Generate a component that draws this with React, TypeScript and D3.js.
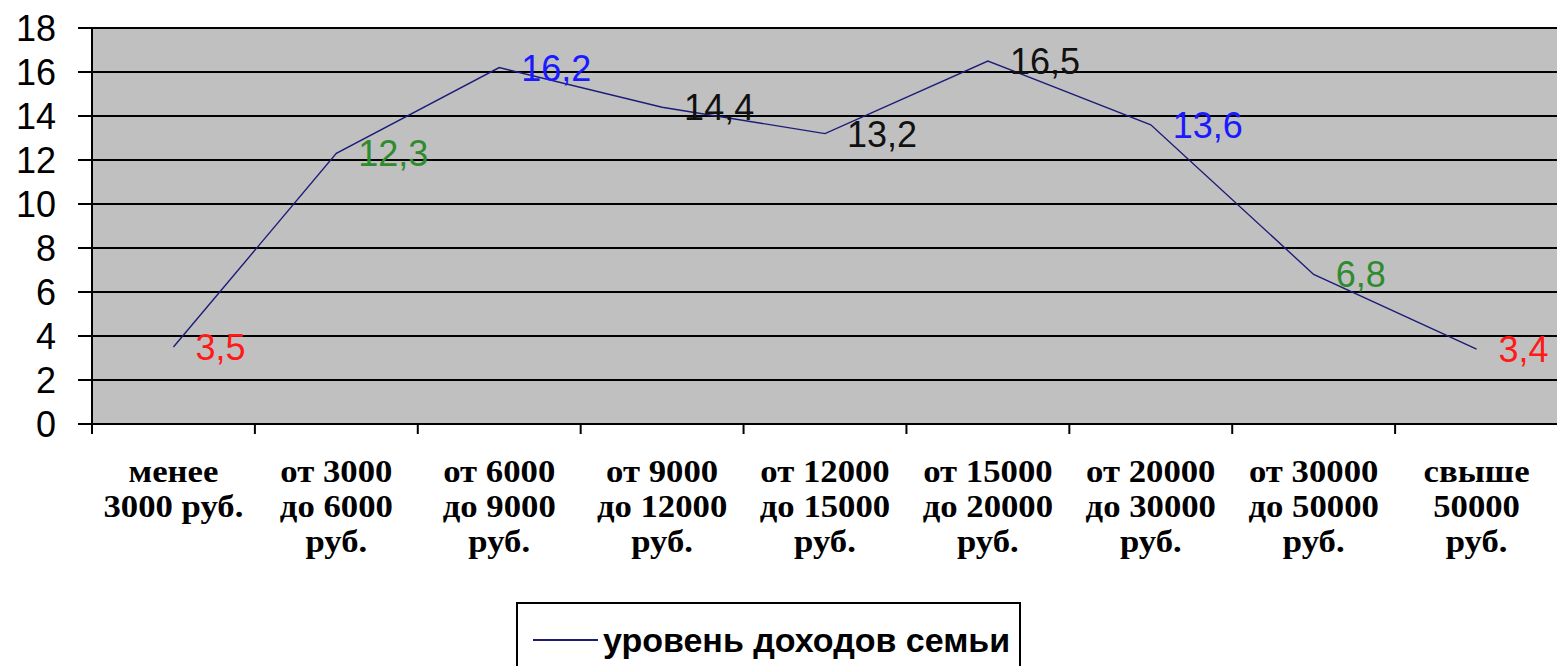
import * as React from 'react';
import * as d3 from 'd3';

const categories = [
  ['менее', '3000 руб.'],
  ['от 3000', 'до 6000', 'руб.'],
  ['от 6000', 'до 9000', 'руб.'],
  ['от 9000', 'до 12000', 'руб.'],
  ['от 12000', 'до 15000', 'руб.'],
  ['от 15000', 'до 20000', 'руб.'],
  ['от 20000', 'до 30000', 'руб.'],
  ['от 30000', 'до 50000', 'руб.'],
  ['свыше', '50000', 'руб.']
];
const values = [3.5, 12.3, 16.2, 14.4, 13.2, 16.5, 13.6, 6.8, 3.4];
const valueLabels = ['3,5', '12,3', '16,2', '14,4', '13,2', '16,5', '13,6', '6,8', '3,4'];
const labelColors = ['#ff1a1a', '#2e8b2e', '#1a1aff', '#111', '#111', '#111', '#1a1aff', '#2e8b2e', '#ff1a1a'];
const yTicks = [0, 2, 4, 6, 8, 10, 12, 14, 16, 18];
const seriesName = 'уровень доходов семьи';

const W = 1557;
const H = 666;
const left = 92;
const right = 1558;
const top = 28;
const bottom = 424;

export default function App() {
  const keys = categories.map((c, i) => String(i));
  const x = d3.scaleBand<string>().domain(keys).range([left, right]);
  const y = d3.scaleLinear().domain([0, 18]).range([bottom, top]);
  const cx = (i: number) => (x(String(i)) as number) + x.bandwidth() / 2;

  const line = d3
    .line<number>()
    .x((d, i) => cx(i))
    .y(d => y(d));

  const tickXs = d3.range(categories.length + 1).map(i => left + i * x.bandwidth());

  return (
    <svg
      width={W}
      height={H}
      style={{ position: 'absolute', left: 0, top: 0, background: '#fff' }}
      fontFamily="'Liberation Sans', Arial, sans-serif"
    >
      <rect x={left} y={top} width={right - left} height={bottom - top} fill="#c0c0c0" />
      {yTicks.map(t => (
        <g key={t}>
          <line x1={78} x2={right} y1={y(t)} y2={y(t)} stroke="#000" strokeWidth={2} />
          <text
            x={56}
            y={y(t)}
            dy="0.36em"
            textAnchor="end"
            fontSize={36}
            fill="#000"
          >
            {t}
          </text>
        </g>
      ))}
      <line x1={left} x2={left} y1={top} y2={bottom + 10} stroke="#000" strokeWidth={2} />
      {tickXs.map((tx, i) => (
        <line key={i} x1={tx} x2={tx} y1={bottom} y2={bottom + 10} stroke="#000" strokeWidth={2} />
      ))}
      <path d={line(values) || ''} fill="none" stroke="#1c1c78" strokeWidth={1.4} />
      {values.map((v, i) => (
        <text
          key={i}
          x={cx(i) + 22}
          y={y(v)}
          dy="0.36em"
          fontSize={36}
          fill={labelColors[i]}
        >
          {valueLabels[i]}
        </text>
      ))}
      {categories.map((lines, i) => (
        <g key={i} transform={`translate(${cx(i)},0) scale(1.12,1)`}>
          <text
            textAnchor="middle"
            fontFamily="'Liberation Serif', 'Times New Roman', serif"
            fontWeight="bold"
            fontSize={31}
            fill="#000"
          >
            {lines.map((l, j) => (
              <tspan key={j} x={0} y={482 + j * 35}>
                {l}
              </tspan>
            ))}
          </text>
        </g>
      ))}
      <rect x={517} y={603} width={503} height={80} fill="#fff" stroke="#000" strokeWidth={2} />
      <line x1={533} x2={598} y1={640} y2={640} stroke="#1c1c78" strokeWidth={2} />
      <text x={603} y={652} fontSize={34} fontWeight="bold" fill="#000">
        {seriesName}
      </text>
    </svg>
  );
}
